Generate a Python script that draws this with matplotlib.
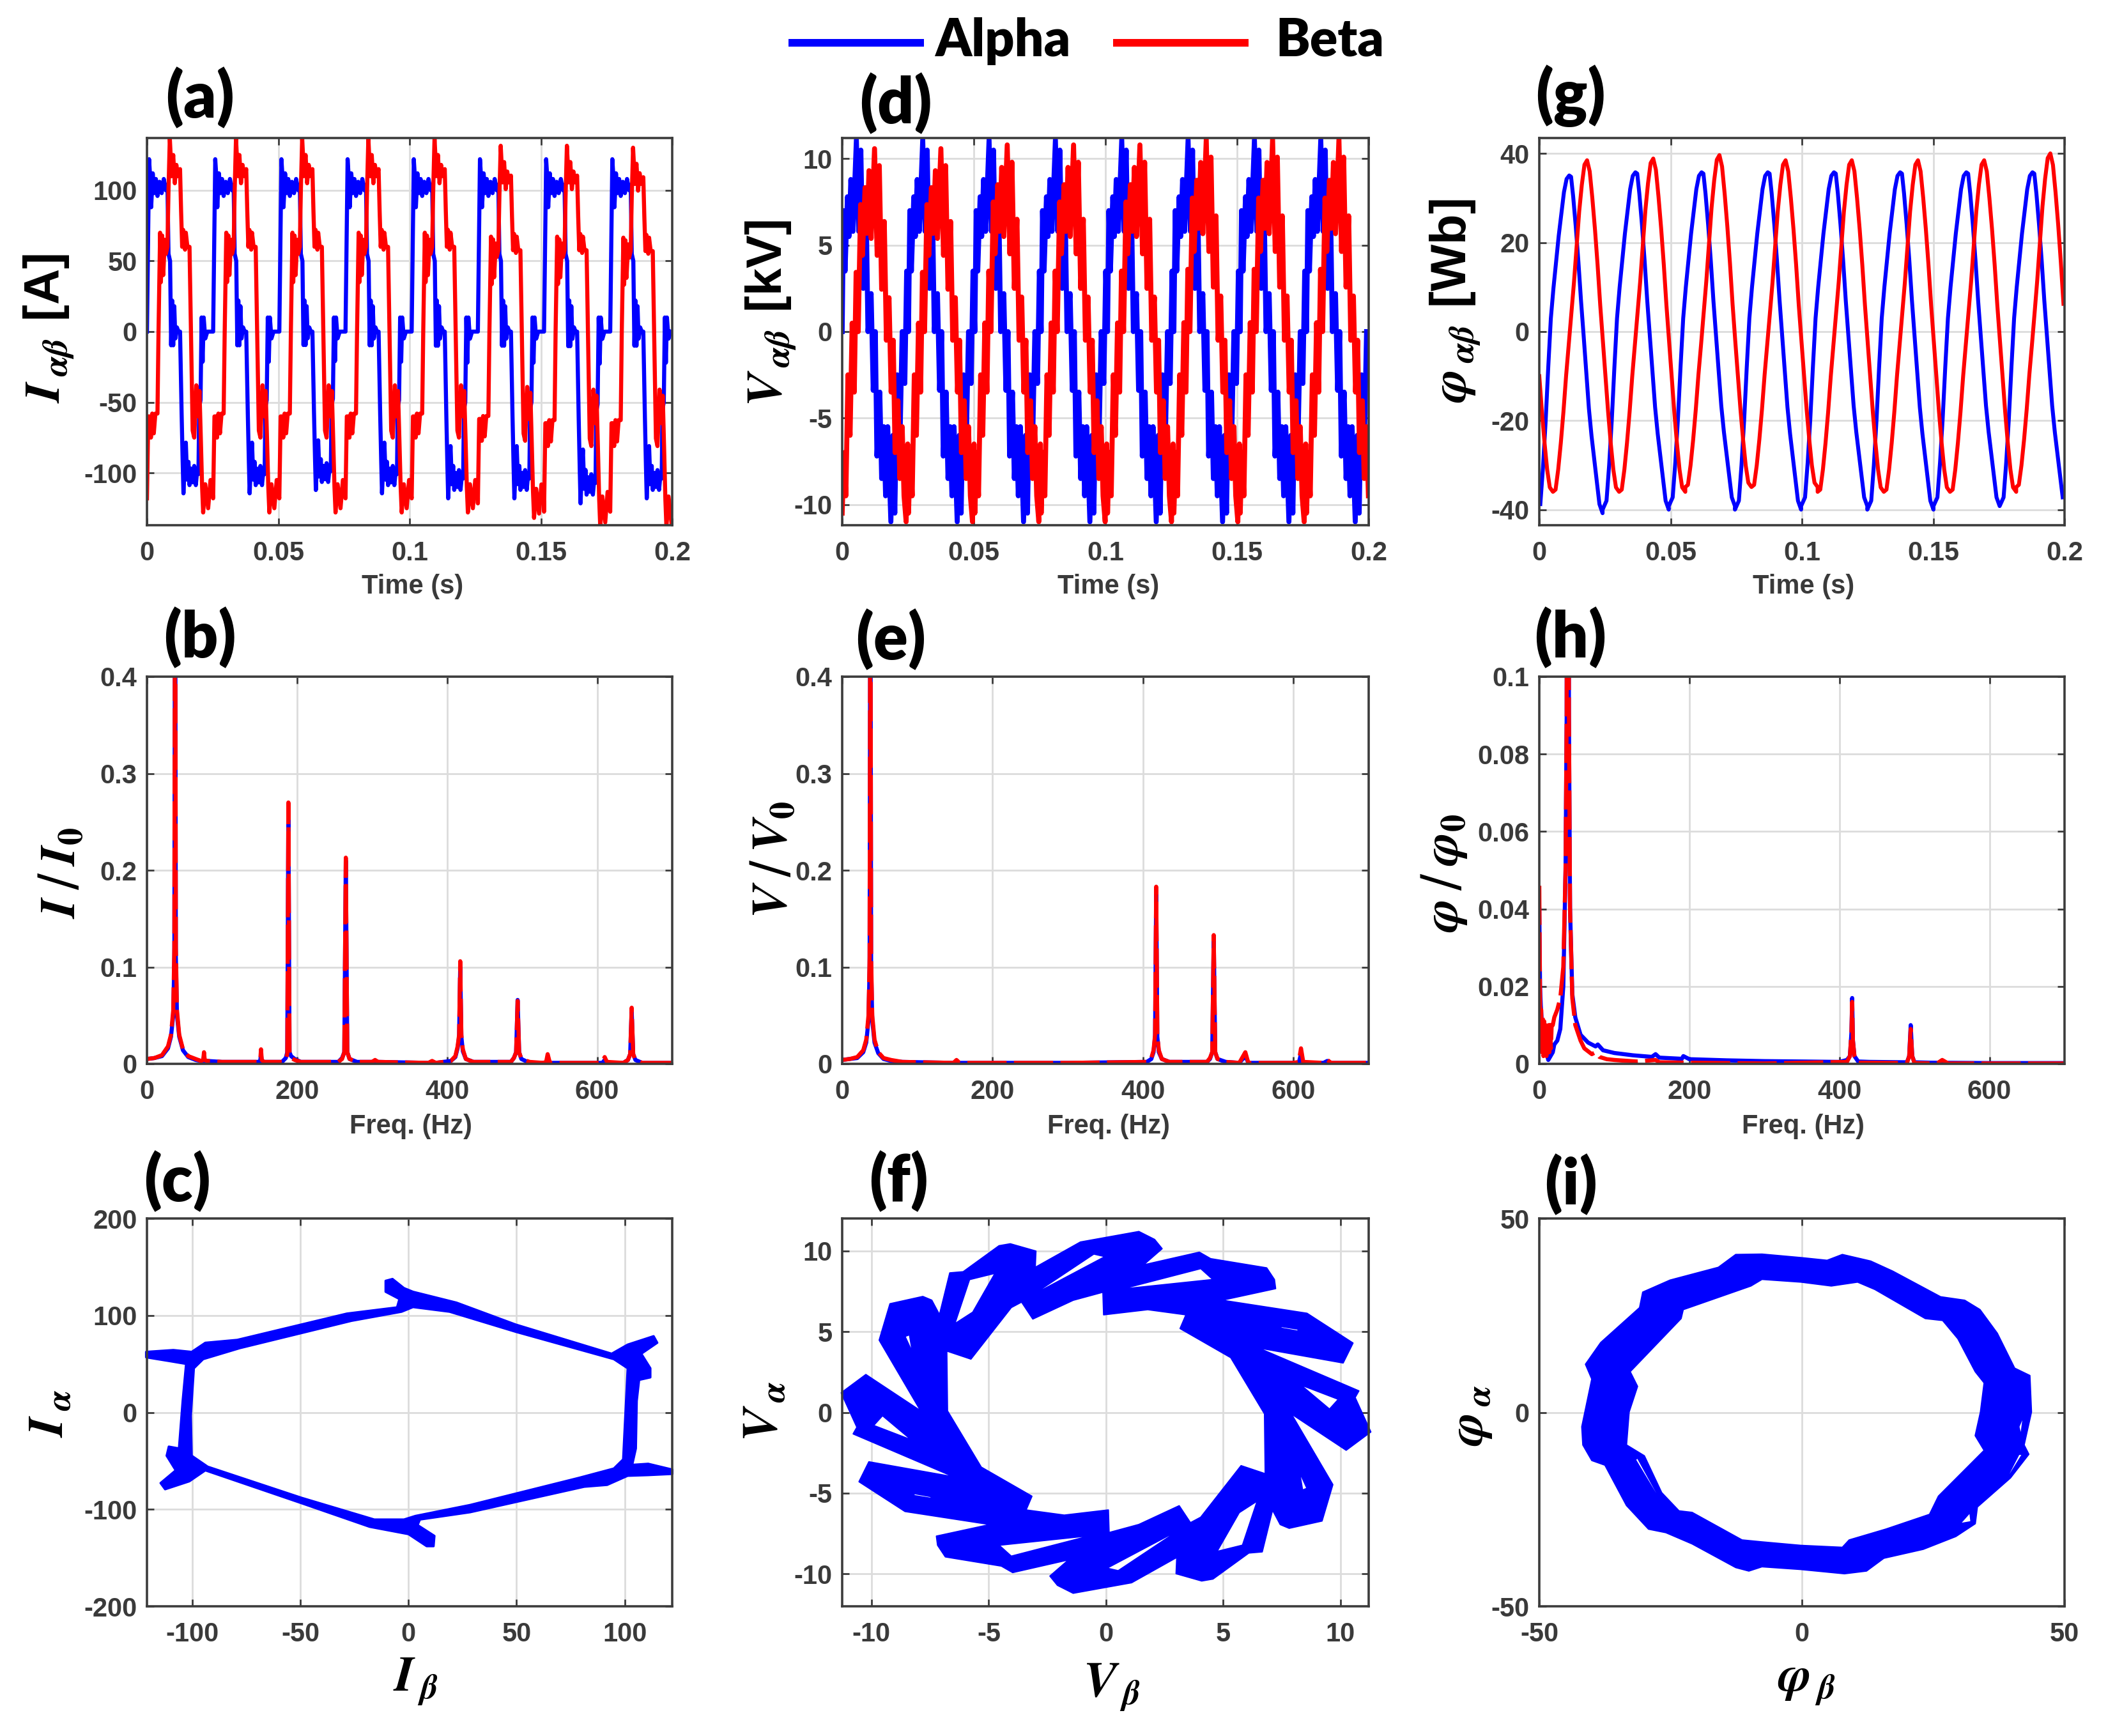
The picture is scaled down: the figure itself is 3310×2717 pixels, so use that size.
import numpy as np
import matplotlib
matplotlib.use("Agg")
import matplotlib.pyplot as plt
from matplotlib.lines import Line2D
from matplotlib.patches import PathPatch
from matplotlib.path import Path

plt.rcParams['mathtext.fontset'] = 'custom'
plt.rcParams['mathtext.fallback'] = 'stix'
plt.rcParams['mathtext.bfit'] = 'STIXGeneral:italic:bold'
plt.rcParams['mathtext.bf'] = 'STIXGeneral:bold'
plt.rcParams['mathtext.sf'] = 'Liberation Sans:bold'
plt.rcParams['font.family'] = ['Liberation Sans', 'DejaVu Sans']

W, H = 3310, 2717
BLUE, RED = '#0000ff', '#ff0000'
TXT, GRID, SPINE = '#3a3a3a', '#dcdcdc', '#3c3c3c'

# ---------- time series: one cycle (ms, value) ----------
Ia_t = [0,0.4,0.8,1.2,1.6,2.2,2.8,3.4,4.0,4.8,5.6,6.4,7.2,7.8,8.2,8.8,9.2,9.6,10.0,10.4,10.8,11.4,12.0,12.6,13.2,13.6,13.9,14.3,14.8,15.3,15.8,16.2,16.8,17.4,18.0,18.6,19.2,19.6,19.9,20.4,20.8,21.2,21.6,22.2,23.0,24.6,25.2]
Ia_v = [0,60,122,110,88,112,98,108,96,106,98,108,100,104,55,50,-10,22,-10,18,-5,3,0,0,-60,-95,-118,-100,-81,-108,-95,-112,-100,-110,-98,-112,-100,-104,-55,-50,10,-22,10,-5,0,0,0]
Ib_t = [0,0.5,1.0,1.5,2.0,2.6,3.2,4.0,4.4,5.0,5.3,5.8,6.2,6.8,7.2,7.8,8.2,8.7,9.4,10.0,10.6,11.2,11.8,12.6,13.0,13.4,13.8,14.5,14.8,15.4,16.2,17.4,18.0,18.8,19.5,20.0,20.5,21.0,21.4,22.2,23.3,24.2,25.2]
Ib_v = [-118,-60,-60,-75,-58,-72,-58,-58,0,70,35,68,40,65,55,60,100,137,110,125,105,118,110,115,85,60,72,58,70,60,60,-70,-75,-38,-60,-42,-75,-110,-128,-108,-125,-105,-118]
Ia_starts = [0,25.2,50.4,75.6,100.8,126.0,151.2,176.4]
Ib_starts = [0,25.2,50.4,75.6,100.8,126.0,151.2,176.4]
Ia_pos = [1,1,1,1,1,1,1,1]
Ia_neg = [.97,.97,.95,.97,1,1,1.03,1.0]
Ib_pos = [1,1,1,1,1,.96,.96,.95]
Ib_neg = [1,1,1,1,1,1.03,1.08,1.08]

Va_t = [0,0.5,1.1,2.0,2.6,3.3,4.1,5.4,6.3,7.1,8.0,9.2,9.8,11.0,11.8,12.6,13.2,14.3,15.0,15.8,16.5,17.3,18.5,19.3,20.0,20.9,22.0,22.8,23.8,24.5,25.2]
Va_v = [0,7,3.5,7.8,5.5,8.8,5.8,11.1,5.8,10.5,2.5,6.3,0,2.2,-3.4,0,-7.2,-3.5,-8.5,-5.5,-9.5,-5.5,-11,-6,-10.5,-2.5,-6,0,-3,3.5,0]
Vb_t = [0,0.7,1.4,2.2,3.0,3.8,4.6,5.3,6.1,7.0,7.7,8.7,9.4,10.2,11.0,12.3,13.3,14.1,15.0,16.0,16.8,17.8,18.6,19.4,20.1,21.2,21.9,22.8,23.5,24.3,24.9,25.2]
Vb_v = [-10.5,-7,-9.5,-2.5,-6,0.5,-3.5,3.5,0,7.5,4.5,8.5,5.8,9.5,5.5,10.8,4.5,9.8,2.5,6.5,-0.5,2,-3.5,-0.5,-7,-4,-8.5,-5.5,-9.5,-11,-6.5,-10.5]
Va_starts = [0,25.2,50.4,75.6,100.8,126.0,151.2,176.4]
Vb_starts = [0,25.2,50.4,75.6,100.8,126.0,151.2,176.4]
Va_pos = [1,1,1,1,1,1,1,1]
Va_neg = [1,1,1,1,1,1,1,1]
Vb_pos = [.98,.98,1,1,1,1.03,1.03,1.03]
Vb_neg = [1,1,1,1,1,1,1,1]

Fa_t = [0,1.5,2.5,3.5,4.5,5.5,6.5,7.5,8.5,9.5,10.5,11.5,12.5,13.2,14,15,16,17,18,19,20,21,22,23,24,25.2]
Fa_v = [-40,-38,-30,-20,-8,3,10,16,22,27,32,35,35.8,35.5,31,24,16,7,-1,-9,-17,-23,-28,-33,-38,-40]
Fb_t = [0,1,2,3,4,5,6,7,8,9,10,11,12,13,14,15,16,17,18,19,20,21,22,23,24,25.2]
Fb_v = [-36,-35.5,-31,-25,-18,-10,-3,4,11,19,27,33,37.5,38.5,36,30,23,15,6,-2,-10,-18,-25,-31,-35,-36]
Fa_starts = [-1.1,24.1,49.3,74.5,99.7,124.9,150.1,175.3]
Fb_starts = [-20,5.2,30.4,55.6,80.8,106.0,131.2,156.4,181.6]
Fa_pos = [.98,1,1,1,1,1,1,1]
Fa_neg = [1.02,1,.98,1,.98,1,.98,.98]
Fb_pos = [1,1,1.01,1.03,1,1,1,1,1.04]
Fb_neg = [1,1,1,.97,.97,1,1,1,.97]

# ---------- spectra ----------
I_f = [0,10,20,28,32,35,36.5,37.5,38.5,40,43,48,55,65,72,75,76,77,80,100,148,151,152,153,156,180,185,187,188.5,190,192,197,205,255,260,263,265,267,270,280,300,304,308,375,380,385,405,411,414,416,417.5,419,421,425,435,485,489,492,494,496,499,510,528,532,534,537,600,607,610,613,635,641,644,646,648,651,660,700]
I_b = [.005,.006,.009,.018,.03,.055,.12,.6,.12,.055,.03,.015,.008,.005,.003,.004,.012,.004,.003,.002,.002,.004,.015,.004,.002,.002,.005,.01,.27,.01,.006,.004,.002,.002,.005,.012,.213,.012,.005,.002,.002,.004,.002,.001,.003,.001,.003,.008,.018,.03,.106,.03,.015,.005,.002,.002,.006,.012,.065,.012,.005,.002,.001,.002,.01,.001,.001,.002,.007,.002,.001,.004,.01,.058,.01,.004,.001,.001]
I_a = [.005,.006,.008,.016,.028,.05,.11,.6,.11,.05,.028,.014,.007,.004,.003,.003,.008,.003,.003,.002,.002,.003,.01,.003,.002,.002,.006,.012,.265,.012,.008,.005,.002,.002,.006,.012,.21,.012,.005,.002,.002,.003,.002,.001,.002,.001,.003,.007,.016,.028,.1,.028,.013,.005,.002,.002,.006,.012,.066,.012,.005,.001,.001,.001,.006,.001,.001,.001,.004,.001,.001,.004,.01,.055,.01,.004,.001,.001]
V_f = [0,10,20,28,32,35,36.5,37.5,38.5,40,43,48,55,65,80,148,152,156,300,405,411,414,416,417.5,419,421,425,435,485,489,492,494,496,499,510,528,536,540,600,607,610,613,640,645,650,700]
V_b = [.004,.005,.007,.014,.025,.05,.11,.6,.11,.05,.025,.012,.006,.004,.002,.001,.004,.001,.001,.002,.006,.014,.03,.183,.03,.014,.005,.002,.002,.006,.012,.133,.012,.005,.002,.001,.012,.001,.001,.002,.016,.002,.001,.004,.001,.001]
V_a = [.004,.005,.006,.012,.022,.045,.1,.6,.1,.045,.022,.011,.005,.003,.002,.001,.003,.001,.001,.002,.005,.012,.028,.178,.028,.012,.005,.002,.002,.005,.012,.13,.012,.005,.002,.001,.008,.001,.001,.001,.01,.001,.001,.003,.001,.001]
Fa_f = [0,1,2,3,5,8,12,15,18,20,24,28,32,35,36.5,38,39.5,41,44,48,55,65,75,78,85,100,125,150,155,160,190,192,200,250,300,400,410,414,416,417,418,420,425,440,490,493,495,497,500,520,600,700]
Fa_s = [.04,.02,.015,.012,.008,.004,.001,.002,.003,.005,.006,.009,.02,.05,.09,.3,.09,.04,.018,.012,.0075,.0055,.0045,.005,.0035,.0028,.0022,.0018,.0025,.0016,.0013,.002,.0012,.0009,.0007,.0005,.001,.002,.008,.017,.006,.002,.0006,.0005,.0004,.002,.01,.002,.0004,.0003,.0002,.0002]
Fb_f = [0,0.5,1.5,2.5,3.5,4.5,5.5,6.5,7.5,8.5,9.5,10.5,11.5,12.5,13.5,14.5,15.5,16.5,18,20,24,28,32,35,36.5,38,39.5,41,44,48,55,60,70,75,80,90,100,130,155,160,200,300,410,414,416,417,418,420,425,490,493,495,497,500,530,537,545,600,700]
Fb_s = [.046,.03,.004,.014,.003,.012,.002,.011,.003,.01,.002,.009,.003,.01,.003,.01,.004,.01,.01,.012,.014,.017,.025,.05,.09,.3,.09,.04,.017,.01,.006,.004,.0025,.003,.0018,.0012,.001,.0006,.001,.0004,.0003,.0001,.0005,.002,.008,.016,.006,.002,.0003,.0002,.002,.009,.002,.0002,.0001,.001,.0001,.0001,.0001]

# ---------- phase-plane outlines ----------
C_outer_x = [-10.6,-7.4,-2.1,2.1,22.2,49.6,94.0,101.4,113.4,115.1,107.7,111.9,111.9,106.7,105.6,105.2,103.5,110.9,122.1,122.1,110.9,101.4,91.9,81.3,28.5,5.3,4.2,12.0,11.6,8.4,0,-18.0,-49.6,-94.0,-101.4,-112.6,-114.7,-107.7,-111.9,-110.9,-106.2,-104.5,-102.9,-110.9,-121.4,-121.4,-108.8,-100.3,-94.0,-79.2,-28.5,-5.3,-4.2,-10.6]
C_outer_y = [135.7,137.6,128.2,124.4,113.2,90.6,60.5,69.9,78.6,71.8,60.5,45.5,36.1,33.5,11.7,-37.2,-54.1,-53.0,-59.0,-63.5,-64.7,-65.4,-74.8,-76.7,-103.0,-110.5,-116.2,-127.4,-138.0,-138.0,-125.6,-118.0,-93.6,-59.8,-71.1,-79.3,-72.9,-59.8,-44.7,-35.3,-37.2,11.7,50.0,53.0,56.8,62.4,64.3,62.4,71.8,74.8,101.9,108.3,116.9,124.4]
C_inner_x = [2.1,19.0,49.6,95.0,101.4,100.3,99.3,95.0,79.2,28.5,3.2,-2.1,-15.8,-49.6,-92.9,-100.3,-100.7,-99.3,-95.0,-78.1,-26.4,-3.2]
C_inner_y = [108.6,103.8,83.1,54.9,45.5,-3.4,-48.5,-57.9,-67.3,-95.5,-106.8,-110.5,-110.5,-88.0,-56.0,-44.7,-3.4,45.5,54.9,66.2,94.4,103.8]

F_outer_x = [-1.09,1.40,2.07,2.39,1.59,3.98,4.46,6.85,7.18,7.23,4.94,8.57,10.53,10.11,6.47,10.78,10.62,11.29,10.24,7.90,9.67,9.21,7.81,7.43,7.10,6.66,6.09,4.56,4.08,2.99,3.02,
             1.09,-1.40,-2.07,-2.39,-1.59,-3.98,-4.46,-6.85,-7.18,-7.23,-4.94,-8.57,-10.53,-10.11,-6.47,-10.78,-10.62,-11.29,-10.24,-7.90,-9.67,-9.21,-7.81,-7.43,-7.10,-6.66,-6.09,-4.56,-4.08,-2.99,-3.02]
F_outer_y = [10.54,11.19,10.70,10.13,9.12,9.91,9.51,8.94,8.22,7.66,6.94,6.13,4.29,3.06,4.00,1.33,0.92,-1.21,-2.34,-0.09,-4.47,-6.72,-7.17,-6.94,-6.04,-8.63,-8.70,-10.31,-10.43,-9.98,-8.97,
             -10.54,-11.19,-10.70,-10.13,-9.12,-9.91,-9.51,-8.94,-8.22,-7.66,-6.94,-6.13,-4.29,-3.06,-4.00,-1.33,-0.92,1.21,2.34,0.09,4.47,6.72,7.17,6.94,6.04,8.63,8.70,10.31,10.43,9.98,8.97]
F_inner_x = [-0.13,-0.10,1.78,3.41,3.16,5.32,6.76,6.79,5.76,4.04,3.60,3.12,1.40,0.13,0.10,-1.78,-3.41,-3.16,-5.32,-6.76,-6.79,-5.76,-4.04,-3.60,-3.12,-1.40]
F_inner_y = [7.44,6.04,6.36,6.04,5.19,3.39,-0.09,-3.80,-3.30,-6.49,-6.83,-5.78,-6.94,-7.44,-6.04,-6.36,-6.04,-5.19,-3.39,0.09,3.80,3.30,6.49,6.83,5.78,6.94]
F_holes_x = [[-0.52,-0.04,-3.20],[0.52,0.04,3.20],[4.04,4.56,0.63],[-4.04,-4.56,-0.63],[7.33,8.19,8.19,7.5],[-7.33,-8.19,-8.19,-7.5],[8.29,9.91,9.53],[-8.29,-9.91,-9.53],[8.25,8.57,8.38],[-8.25,-8.57,-8.38],[6.45,5.68,4.73,5.82],[-6.45,-5.68,-4.73,-5.82]]
F_holes_y = [[9.80,9.64,7.21],[-9.80,-9.64,-7.21],[8.90,8.22,7.62],[-8.90,-8.22,-7.62],[5.35,5.15,5.02,5.2],[-5.35,-5.15,-5.02,-5.2],[1.71,0.81,0.20],[-1.71,-0.81,-0.20],[-3.69,-4.70,-4.81],[3.69,4.70,4.81],[-5.48,-6.20,-8.61,-8.22],[5.48,6.20,8.61,8.22]]

P_outer_x = [-12.6,-7.6,-0.2,4.8,7.7,13.1,17.3,26.4,31.0,33.9,37.2,40.5,43.4,43.7,42.3,43.2,39.7,33.4,33.0,29.3,23.1,15.6,12.3,8.1,-0.2,-7.6,-10.1,-12.6,-20.9,-25.9,-29.2,-33.4,-37.5,-40.0,-41.7,-41.9,-40.0,-41.2,-38.3,-30.9,-30.3,-25.1,-15.9]
P_outer_y = [40.7,40.8,39.9,39.2,40.7,39.0,36.4,29.8,28.9,26.5,20.4,11.4,9.5,0.1,-8.4,-10.8,-16.9,-24.4,-28.7,-32.0,-35.3,-37.6,-40.9,-41.6,-40.5,-39.8,-40.9,-40.0,-33.9,-31.0,-30.1,-24.0,-13.6,-12.4,-8.4,-3.7,8.6,12.4,18.0,27.0,31.0,34.1,37.4]
P_inner_x = [-7.6,-0.2,5.6,10.6,13.9,23.5,26.8,29.7,33.0,34.7,34.0,33.0,34.7,26.0,24.3,16.0,9.0,7.7,-0.2,-7.6,-11.4,-20.9,-23.4,-26.7,-30.0,-33.4,-32.9,-31.3,-32.7,-23.0,-22.6,-9.7]
P_inner_y = [34.3,33.6,32.6,33.6,31.7,24.2,23.7,19.0,10.5,7.6,0.1,-6.0,-9.8,-21.6,-26.3,-30.1,-32.9,-34.8,-34.3,-33.4,-32.9,-25.8,-25.4,-20.7,-11.2,-8.4,0.1,6.7,10.5,24.2,26.5,32.6]
P_holes_x = [[38.8,41.3,42.0,39.2],[30.1,32.0,32.2],[-31.7,-26.7,-26.3,-31.3],[41.3,42.2,41.7]]
P_holes_y = [[-17.4,-10.8,-10.8,-16.9],[-28.7,-25.8,-28.2],[-12.2,-23.5,-24.0,-11.7],[-3.7,-0.8,-6.0]]

# ---------- tick labels ----------
time_ticks = [0,0.05,0.1,0.15,0.2]
time_labels = ['0','0.05','0.1','0.15','0.2']
freq_ticks = [0,200,400,600]
I_ticks = [-100,-50,0,50,100]
V_ticks = [-10,-5,0,5,10]
F_ticks = [-40,-20,0,20,40]
spec_ticks_04 = [0,0.1,0.2,0.3,0.4]
spec_labels_04 = ['0','0.1','0.2','0.3','0.4']
spec_ticks_01 = [0,0.02,0.04,0.06,0.08,0.1]
spec_labels_01 = ['0','0.02','0.04','0.06','0.08','0.1']


def fx(p): return p / W
def fy(p): return 1 - p / H


fig = plt.figure(figsize=(W / 100, H / 100), dpi=100, facecolor='white')

cols = [(230, 1052), (1318, 2142), (2409, 3231)]
rows = [(216, 822), (1059, 1665), (1907, 2514)]


def make_ax(c, r):
    l, rr = cols[c]
    t, b = rows[r]
    ax = fig.add_axes([fx(l), fy(b), (rr - l) / W, (b - t) / H])
    for s in ax.spines.values():
        s.set_linewidth(2.6)
        s.set_color(SPINE)
        s.set_zorder(5)
    ax.set_axisbelow(True)
    ax.grid(True, color=GRID, lw=2.0)
    ax.tick_params(direction='in', length=8, width=2.0, color=SPINE, top=True, right=True,
                   labelsize=30, labelcolor=TXT)
    ax.tick_params(axis='x', pad=17)
    ax.tick_params(axis='y', pad=11)
    return ax


def set_ticks(ax, xt, xl, yt, yl):
    ax.set_xticks(xt)
    ax.set_xticklabels(xl, fontweight='bold')
    ax.set_yticks(yt)
    ax.set_yticklabels(yl, fontweight='bold')


def tile(starts, t, v, pos, neg):
    tt, vv = [], []
    t = np.asarray(t, float)
    v = np.asarray(v, float)
    for s, gp, gn in zip(starts, pos, neg):
        tt.append((s + t) / 1000.0)
        vv.append(np.where(v > 0, v * gp, v * gn))
    tt = np.concatenate(tt)
    vv = np.concatenate(vv)
    keep = (tt >= 0) & (tt <= 0.2)
    return tt[keep], vv[keep]


def ring(ax, ox, oy, ix, iy, hx=(), hy=(), color=BLUE, edge=1.0):
    def oriented(x, y, ccw):
        pts = np.column_stack([x, y])
        area = 0.5 * np.sum(pts[:, 0] * np.roll(pts[:, 1], -1) - np.roll(pts[:, 0], -1) * pts[:, 1])
        if (area > 0) != ccw:
            pts = pts[::-1]
        return pts
    paths = [Path(np.vstack([oriented(ox, oy, True), [[0, 0]]]), closed=True),
             Path(np.vstack([oriented(ix, iy, False), [[0, 0]]]), closed=True)]
    for x, y in zip(hx, hy):
        paths.append(Path(np.vstack([oriented(x, y, False), [[0, 0]]]), closed=True))
    ax.add_patch(PathPatch(Path.make_compound_path(*paths), facecolor=color, edgecolor=color,
                           lw=edge, joinstyle='round', clip_on=False, zorder=3))


# Row 1 : time series
ax = make_ax(0, 0)
ax.plot(*tile(Ia_starts, Ia_t, Ia_v, Ia_pos, Ia_neg), color=BLUE, lw=4.6, label='Alpha')
ax.plot(*tile(Ib_starts, Ib_t, Ib_v, Ib_pos, Ib_neg), color=RED, lw=4.6, label='Beta')
ax.set_xlim(0, 0.2); ax.set_ylim(-137, 137)
set_ticks(ax, time_ticks, time_labels, I_ticks, [str(v) for v in I_ticks])

ax = make_ax(1, 0)
ax.plot(*tile(Va_starts, Va_t, Va_v, Va_pos, Va_neg), color=BLUE, lw=5.6, label='Alpha')
ax.plot(*tile(Vb_starts, Vb_t, Vb_v, Vb_pos, Vb_neg), color=RED, lw=5.6, label='Beta')
ax.set_xlim(0, 0.2); ax.set_ylim(-11.2, 11.2)
set_ticks(ax, time_ticks, time_labels, V_ticks, [str(v) for v in V_ticks])

ax = make_ax(2, 0)
ax.plot(*tile(Fa_starts, Fa_t, Fa_v, Fa_pos, Fa_neg), color=BLUE, lw=4.4, label='Alpha')
ax.plot(*tile(Fb_starts, Fb_t, Fb_v, Fb_pos, Fb_neg), color=RED, lw=4.4, label='Beta')
ax.set_xlim(0, 0.2); ax.set_ylim(-43.5, 43.5)
set_ticks(ax, time_ticks, time_labels, F_ticks, [str(v) for v in F_ticks])

# Row 2 : spectra
DASH = (0, (9.6, 1.8))
ax = make_ax(0, 1)
ax.plot(I_f, I_a, color=BLUE, lw=4.6, label='Alpha')
ax.plot(I_f, I_b, color=RED, lw=4.6, ls=DASH, label='Beta')
ax.set_xlim(0, 700); ax.set_ylim(0, 0.4)
set_ticks(ax, freq_ticks, [str(v) for v in freq_ticks], spec_ticks_04, spec_labels_04)

ax = make_ax(1, 1)
ax.plot(V_f, V_a, color=BLUE, lw=4.6, label='Alpha')
ax.plot(V_f, V_b, color=RED, lw=4.6, ls=DASH, label='Beta')
ax.set_xlim(0, 700); ax.set_ylim(0, 0.4)
set_ticks(ax, freq_ticks, [str(v) for v in freq_ticks], spec_ticks_04, spec_labels_04)

ax = make_ax(2, 1)
ax.plot(Fa_f, Fa_s, color=BLUE, lw=4.6, label='Alpha')
ax.plot(Fb_f, Fb_s, color=RED, lw=4.6, ls=DASH, label='Beta')
ax.set_xlim(0, 700); ax.set_ylim(0, 0.1)
set_ticks(ax, freq_ticks, [str(v) for v in freq_ticks], spec_ticks_01, spec_labels_01)

# Row 3 : phase planes
ax = make_ax(0, 2)
ring(ax, C_outer_x, C_outer_y, C_inner_x, C_inner_y, edge=2.5)
ax.set_xlim(-121, 122); ax.set_ylim(-200, 200)
set_ticks(ax, I_ticks, [str(v) for v in I_ticks], [-200, -100, 0, 100, 200], ['-200', '-100', '0', '100', '200'])

ax = make_ax(1, 2)
ring(ax, F_outer_x, F_outer_y, F_inner_x, F_inner_y, F_holes_x, F_holes_y, edge=1.5)
ax.set_xlim(-11.25, 11.2); ax.set_ylim(-12, 12)
set_ticks(ax, V_ticks, [str(v) for v in V_ticks], V_ticks, [str(v) for v in V_ticks])

ax = make_ax(2, 2)
ring(ax, P_outer_x, P_outer_y, P_inner_x, P_inner_y, P_holes_x, P_holes_y, edge=1.5)
ax.set_xlim(-50, 50); ax.set_ylim(-50, 50)
set_ticks(ax, [-50, 0, 50], ['-50', '0', '50'], [-50, 0, 50], ['-50', '0', '50'])

# Axis texts
XT = dict(fontsize=30, fontweight='bold', color=TXT, ha='center', va='center')
for x, y in [(646, 918), (1735, 918), (2823, 918)]:
    fig.text(fx(x), fy(y), 'Time (s)', **XT)
for x, y in [(643, 1763), (1735, 1763), (2822, 1763)]:
    fig.text(fx(x), fy(y), 'Freq. (Hz)', **XT)

LAB = dict(fontsize=56, color='black', ha='center', va='center')
ylabels = [
    (77, 514, r'$\mathbfit{I}_{\,\mathbfit{\alpha\beta}}\ \mathsf{[A]}$'),
    (1207, 490, r'$\mathbfit{V}_{\,\mathbfit{\alpha\beta}}\ \mathsf{[kV]}$'),
    (2278, 471, r'$\mathbfit{\varphi}_{\,\mathbfit{\alpha\beta}}\ \mathsf{[Wb]}$'),
    (96, 1366, r'$\mathbfit{I}\,/\,\mathbfit{I}_{\mathbf{0}}$'),
    (1210, 1345, r'$\mathbfit{V}\,/\,\mathbfit{V}_{\mathbf{0}}$'),
    (2260, 1366, r'$\mathbfit{\varphi}\,/\,\mathbfit{\varphi}_{\mathbf{0}}$'),
    (79, 2212, r'$\mathbfit{I}_{\,\mathbfit{\alpha}}$'),
    (1197, 2209, r'$\mathbfit{V}_{\,\mathbfit{\alpha}}$'),
    (2301, 2215, r'$\mathbfit{\varphi}_{\,\mathbfit{\alpha}}$'),
]
for x, y, s in ylabels:
    fig.text(fx(x), fy(y), s, rotation=90, **LAB)
xlabels = [
    (650, 2632, r'$\mathbfit{I}_{\,\mathbfit{\beta}}$'),
    (1740, 2641, r'$\mathbfit{V}_{\,\mathbfit{\beta}}$'),
    (2827, 2635, r'$\mathbfit{\varphi}_{\,\mathbfit{\beta}}$'),
]
for x, y, s in xlabels:
    fig.text(fx(x), fy(y), s, **LAB)

# Panel letters
PANEL = dict(fontsize=72, fontweight='heavy', family='Lato', color='black', ha='center', va='center')
panels = [('(a)', 313, 153), ('(d)', 1402, 162), ('(g)', 2458, 150),
          ('(b)', 313, 998), ('(e)', 1394, 1001), ('(h)', 2458, 998),
          ('(c)', 277, 1849), ('(f)', 1406, 1849), ('(i)', 2458, 1854)]
for s, x, y in panels:
    fig.text(fx(x), fy(y), s, **PANEL)

# Legend
for color, x0, x1 in [(BLUE, 1234, 1446), (RED, 1742, 1954)]:
    fig.add_artist(Line2D([fx(x0), fx(x1)], [fy(67), fy(67)], color=color, lw=8.6, solid_capstyle='butt',
                          transform=fig.transFigure))
LEG = dict(fontsize=58, fontweight='heavy', family='Lato', color='black', ha='left', va='center')
fig.text(fx(1463), fy(64), 'Alpha', **LEG)
fig.text(fx(1996), fy(64), 'Beta', **LEG)

fig.savefig('out.png', dpi=100, facecolor='white')
